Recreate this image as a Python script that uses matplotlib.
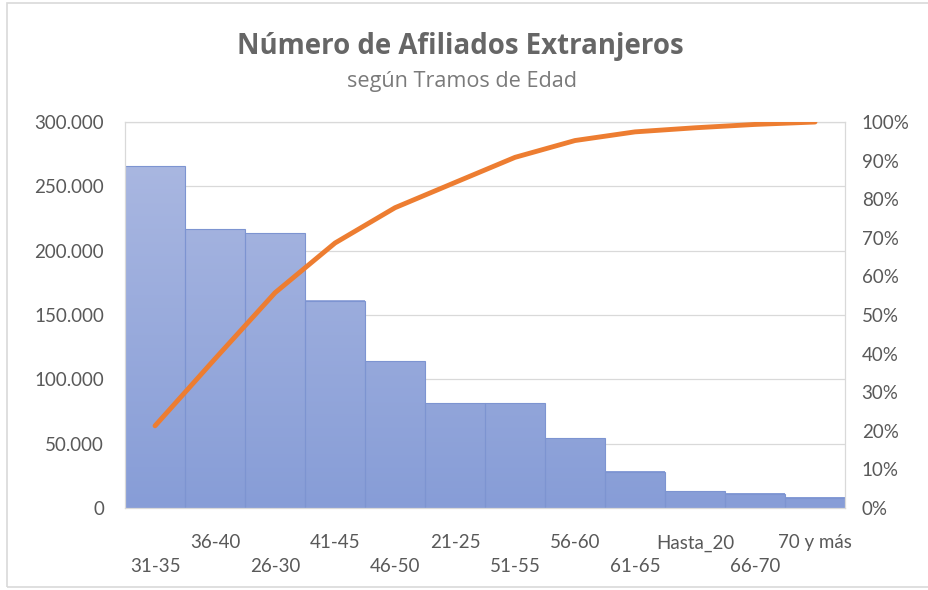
import numpy as np
import matplotlib.pyplot as plt
from matplotlib.colors import to_rgb
from matplotlib.patches import Rectangle
from matplotlib.ticker import FuncFormatter, PercentFormatter

plt.rcParams['font.family'] = ['Lato', 'DejaVu Sans']

# afiliados extranjeros por tramo de edad (ordenado de mayor a menor)
tramos = ['31-35', '36-40', '26-30', '41-45', '46-50', '21-25',
          '51-55', '56-60', '61-65', 'Hasta_20', '66-70', '70 y más']
afiliados = [265800, 216800, 213700, 160900, 114200, 81600,
             81300, 54400, 28000, 13200, 10900, 7800]

acumulado = np.cumsum(afiliados) / np.sum(afiliados)

TEXT = '#595959'
GRID = '#d9d9d9'
BAR_LO = np.array(to_rgb('#879dd7'))
BAR_HI = np.array(to_rgb('#adbae2'))
YMAX = 300000

fig = plt.figure(figsize=(9.29, 5.90), dpi=100)
ax = fig.add_axes([0.1346, 0.139, 0.775, 0.6542])

x = np.arange(len(tramos))

# barras con degradado vertical (mas claro arriba)
for xi, h in zip(x, afiliados):
    t = np.linspace(0, h / YMAX, 200)[:, None]
    grad = BAR_LO + (BAR_HI - BAR_LO) * t
    ax.imshow(grad.reshape(200, 1, 3), extent=(xi - 0.5, xi + 0.5, 0, h),
              origin='lower', aspect='auto', zorder=1, interpolation='bilinear')
ax.bar(x, afiliados, width=1.0, facecolor='none', edgecolor='#7d94d1',
       linewidth=0.8, zorder=2)

ax.set_xlim(-0.5, len(tramos) - 0.5)
ax.set_ylim(0, YMAX)
ax.set_yticks(np.arange(0, YMAX + 1, 50000))
ax.yaxis.set_major_formatter(FuncFormatter(lambda v, p: f'{int(v):,}'.replace(',', '.')))
ax.grid(axis='y', color=GRID, linewidth=0.9, zorder=0)
ax.set_axisbelow(True)

# etiquetas del eje x escalonadas en dos filas
ax.set_xticks(x)
ax.set_xticklabels(['\n' + t if i % 2 == 0 else t for i, t in enumerate(tramos)],
                   linespacing=1.5)
ax.tick_params(axis='x', length=0, pad=19, labelsize=13.5, labelcolor=TEXT)
ax.tick_params(axis='y', length=0, pad=15, labelsize=13.5, labelcolor=TEXT)
for s in ax.spines.values():
    s.set_color(GRID)
    s.set_linewidth(0.9)

# curva de porcentaje acumulado
ax2 = ax.twinx()
ax2.plot(x, acumulado, color='#ed7d31', linewidth=3.5, solid_capstyle='round',
         solid_joinstyle='round', zorder=3)
ax2.set_ylim(0, 1)
ax2.set_yticks(np.linspace(0, 1, 11))
ax2.yaxis.set_major_formatter(PercentFormatter(1.0, decimals=0))
ax2.tick_params(axis='y', length=0, pad=12, labelsize=13.5, labelcolor=TEXT)
for s in ax2.spines.values():
    s.set_visible(False)

fig.text(0.495, 0.922, 'Número de Afiliados Extranjeros', ha='center', va='center',
         fontsize=19.9, fontweight='bold', color='#666666', family=['Open Sans', 'DejaVu Sans'])
fig.text(0.497, 0.862, 'según Tramos de Edad', ha='center', va='center',
         fontsize=15.6, color='#7a7a7a', family=['Open Sans', 'DejaVu Sans'])

# marco del area del grafico
fig.patches.append(Rectangle((7 / 929, 3 / 590), 1.0, 584 / 590, transform=fig.transFigure,
                             fill=False, edgecolor=GRID, linewidth=1.2))

fig.savefig('out.png', dpi=100)
